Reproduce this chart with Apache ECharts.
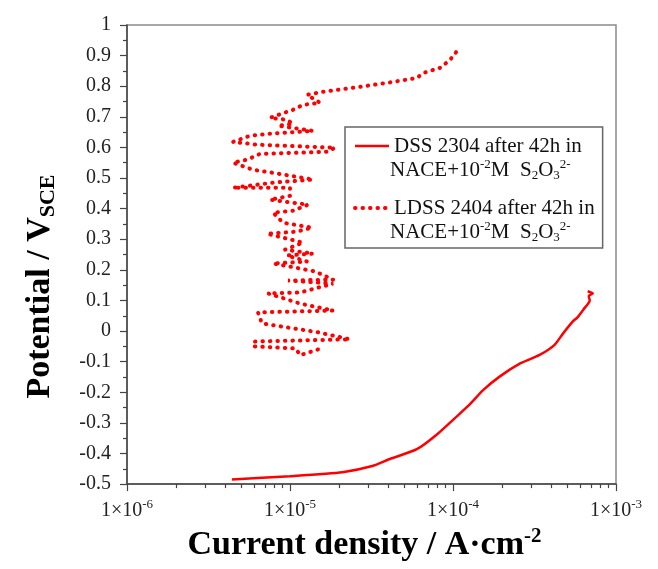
<!DOCTYPE html>
<html>
<head>
<meta charset="utf-8">
<script src="https://cdn.jsdelivr.net/npm/echarts@6/dist/echarts.min.js"></script>
<style>
  html, body { margin: 0; padding: 0; background: #fff; }
  #main { width: 658px; height: 569px; }
</style>
</head>
<body>
<div id="main"></div>
<script>
// DSS 2304 polarisation curve (current density A/cm2, potential V_SCE)
var dssCurrent = [4.4e-6, 1.0e-5, 2.1e-5, 3.2e-5, 4.1e-5, 6.0e-5, 8.0e-5, 1.06e-4, 1.27e-4, 1.53e-4,
  1.94e-4, 2.6e-4, 3.4e-4, 4.2e-4, 4.7e-4, 5.4e-4, 5.8e-4, 6.3e-4, 6.9e-4, 6.8e-4, 7.2e-4, 6.7e-4];
var dssPotential = [-0.485, -0.474, -0.461, -0.441, -0.418, -0.386, -0.337, -0.278, -0.239, -0.193,
  -0.148, -0.105, -0.078, -0.045, -0.01, 0.03, 0.045, 0.07, 0.10, 0.115, 0.123, 0.13];

// LDSS 2404 curve
var ldssCurrent = [1.485e-5, 1.151e-5, 1.088e-5, 5.93e-6, 6.10e-6, 2.33e-5, 1.485e-5, 6.73e-6, 6.36e-6, 1.84e-5,
  1.151e-5, 7.33e-6, 1.151e-5, 1.84e-5, 9.72e-6, 1.84e-5, 1.423e-5, 7.87e-6, 1.272e-5, 9.59e-6,
  1.384e-5, 9.32e-6, 1.202e-5, 7.23e-6, 1.104e-5, 1.365e-5, 9.06e-6, 7.87e-6, 1.043e-5, 1.290e-5,
  7.54e-6, 1.0e-5, 1.0e-5, 4.47e-6, 7.87e-6, 1.384e-5, 7.87e-6, 5.93e-6, 4.47e-6, 5.45e-6,
  6.55e-6, 1.687e-5, 1.889e-5, 6.27e-6, 4.47e-6, 5.68e-6, 7.54e-6, 1.384e-5, 8.44e-6, 1.043e-5,
  9.59e-6, 7.54e-6, 1.043e-5, 1.202e-5, 1.528e-5, 1.272e-5, 1.594e-5, 2.69e-5, 4.28e-5, 6.01e-5,
  6.55e-5, 8.32e-5, 9.59e-5, 1.058e-4];
var ldssPotential = [-0.060, -0.079, -0.057, -0.050, -0.034, -0.027, -0.004, 0.025, 0.061, 0.067,
  0.090, 0.123, 0.126, 0.155, 0.165, 0.168, 0.195, 0.221, 0.227, 0.247,
  0.253, 0.266, 0.289, 0.318, 0.325, 0.338, 0.354, 0.387, 0.393, 0.413,
  0.429, 0.442, 0.468, 0.468, 0.485, 0.495, 0.517, 0.527, 0.550, 0.560,
  0.579, 0.586, 0.599, 0.609, 0.618, 0.638, 0.645, 0.654, 0.671, 0.677,
  0.690, 0.697, 0.723, 0.739, 0.746, 0.772, 0.782, 0.798, 0.814, 0.827,
  0.843, 0.860, 0.886, 0.915];

var seriesNames = ['DSS 2304 after 42h in', 'LDSS 2404 after 42h in'];
var minorTickValues = [];
[1e-6, 1e-5, 1e-4].forEach(function (d) {
  for (var k = 2; k <= 9; k++) minorTickValues.push(k * d);
});

var serif = "'Liberation Serif', 'Times New Roman', serif";
var dotted = { color: '#ff0000', width: 4, type: [0.5, 7], cap: 'round' };

function pairs(xs, ys) {
  var out = [];
  for (var i = 0; i < xs.length; i++) out.push([xs[i], ys[i]]);
  return out;
}

var secondLine = {
  text: '{n|NACE+10}{p|-2}{n|M  S}{b|2}{n|O}{b|3}{p|2-}',
  rich: {
    n: { fontFamily: serif, fontSize: 21, fill: '#111', lineHeight: 24, verticalAlign: 'middle' },
    p: { fontFamily: serif, fontSize: 13, fill: '#111', lineHeight: 13, verticalAlign: 'top' },
    b: { fontFamily: serif, fontSize: 13, fill: '#111', lineHeight: 13, verticalAlign: 'bottom' }
  }
};

var chart = echarts.init(document.getElementById('main'));

var option = {
  animation: false,
  grid: {
    left: 127, right: 42, top: 25, bottom: 84,
    show: true, borderColor: '#8a8a8a', borderWidth: 1.5
  },
  legend: {
    orient: 'vertical',
    left: 345, top: 127,
    padding: [7, 8, 28, 8],
    itemGap: 38, itemWidth: 34, itemHeight: 14,
    borderColor: '#666', borderWidth: 1.5,
    backgroundColor: '#fff',
    itemStyle: { opacity: 0 },
    textStyle: { fontFamily: serif, fontSize: 21, color: '#111', lineHeight: 24 },
    data: [
      { name: seriesNames[0], lineStyle: { color: '#ff0000', width: 2.5 } },
      { name: seriesNames[1], lineStyle: dotted }
    ]
  },
  xAxis: [{
    type: 'log', logBase: 10,
    min: 1e-6, max: 1e-3,
    axisLine: { onZero: false, lineStyle: { color: '#444', width: 1.5 } },
    axisTick: { length: 7, lineStyle: { color: '#444', width: 1.2 } },
    splitLine: { show: false },
    axisLabel: {
      margin: 14,
      formatter: function (v) {
        var e = Math.round(Math.log10(v));
        return '{a|1×10}{s|' + e + '}';
      },
      rich: {
        a: { fontFamily: serif, fontSize: 20, color: '#222', lineHeight: 26, verticalAlign: 'middle' },
        s: { fontFamily: serif, fontSize: 13, color: '#222', lineHeight: 13, verticalAlign: 'top' }
      }
    },
    name: 'Current density / A·cm{sup|-2}',
    nameLocation: 'middle',
    nameGap: 39,
    nameTextStyle: {
      rich: {
        sup: { fontFamily: serif, fontSize: 21, fontWeight: 'bold', color: '#000', lineHeight: 21, verticalAlign: 'top' }
      },
      fontFamily: serif, fontSize: 34, fontWeight: 'bold', color: '#000', lineHeight: 38,
      padding: [0, 14, 0, 0]
    }
  }, {
    type: 'log', logBase: 10,
    min: 1e-6, max: 1e-3,
    position: 'bottom',
    axisLine: { show: false, onZero: false },
    axisLabel: { show: false },
    splitLine: { show: false },
    axisTick: { show: true, length: 4, customValues: minorTickValues, lineStyle: { color: '#444', width: 1.2 } }
  }],
  yAxis: {
    type: 'value',
    min: -0.5, max: 1, interval: 0.1,
    axisLine: { show: true, lineStyle: { color: '#444', width: 1.5 } },
    axisTick: { show: true, length: 7, lineStyle: { color: '#444', width: 1.2 } },
    minorTick: { show: true, splitNumber: 2, length: 4, lineStyle: { color: '#444', width: 1.2 } },
    splitLine: { show: false },
    axisLabel: {
      margin: 16,
      fontFamily: serif, fontSize: 20, color: '#222',
      formatter: function (v) { return String(+v.toFixed(1)); }
    },
    name: 'Potential / V{sub|SCE}',
    nameLocation: 'middle',
    nameGap: 68,
    nameTextStyle: {
      fontFamily: serif, fontSize: 34, fontWeight: 'bold', color: '#000', lineHeight: 38,
      padding: [0, 64, 0, 0],
      rich: {
        sub: { fontFamily: serif, fontSize: 22, fontWeight: 'bold', color: '#000', lineHeight: 22, verticalAlign: 'bottom' }
      }
    }
  },
  graphic: [
    { type: 'text', left: 390, top: 158, z: 100, style: secondLine },
    { type: 'text', left: 390, top: 220, z: 100, style: secondLine }
  ],
  series: [
    {
      name: seriesNames[0],
      type: 'line',
      xAxisIndex: 0,
      symbol: 'none',
      smooth: 0.2,
      data: pairs(dssCurrent, dssPotential),
      lineStyle: { color: '#ff0000', width: 2.5 },
      itemStyle: { color: '#ff0000' }
    },
    {
      name: seriesNames[1],
      type: 'line',
      xAxisIndex: 0,
      symbol: 'none',
      data: pairs(ldssCurrent, ldssPotential),
      lineStyle: dotted,
      itemStyle: { color: '#ff0000' }
    }
  ]
};

chart.setOption(option);
</script>
</body>
</html>
